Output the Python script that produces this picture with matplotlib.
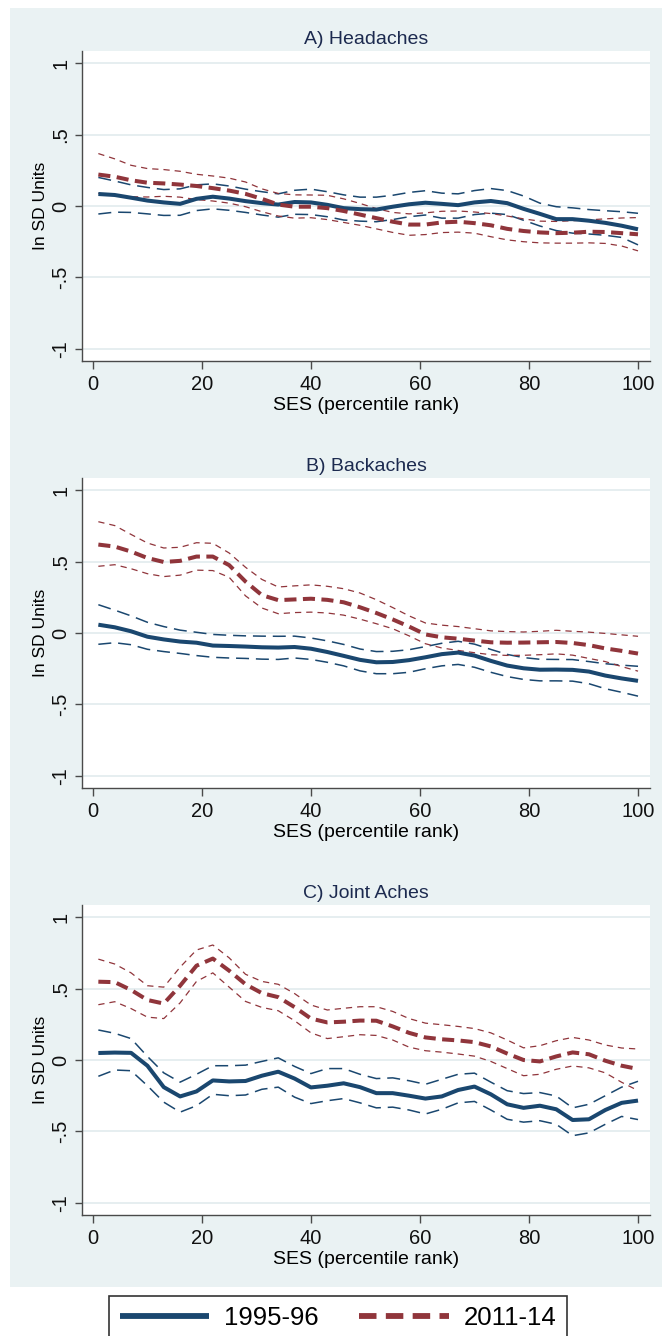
import matplotlib
matplotlib.use("Agg")
import matplotlib.pyplot as plt
from matplotlib.patches import Rectangle

plt.rcParams['font.family'] = ['Liberation Sans', 'DejaVu Sans']

# SES percentile grid (every 3 points)
ses = [1, 4, 7, 10, 13, 16, 19, 22, 25, 28, 31, 34, 37, 40, 43, 46, 49,
       52, 55, 58, 61, 64, 67, 70, 73, 76, 79, 82, 85, 88, 91, 94, 97, 100]

panel_titles = ['A) Headaches', 'B) Backaches', 'C) Joint Aches']
legend_labels = ['1995-96', '2011-14']
yticks = [-1, -0.5, 0, 0.5, 1]
ytick_labels = ['-1', '-.5', '0', '.5', '1']
xticks = [0, 20, 40, 60, 80, 100]

# A) Headaches
a_mid_95 = [0.084, 0.077, 0.058, 0.038, 0.025, 0.015, 0.050, 0.065, 0.052, 0.034, 0.020, 0.010,
            0.028, 0.025, 0.008, -0.015, -0.022, -0.025, -0.005, 0.012, 0.023, 0.015, 0.006, 0.025,
            0.035, 0.020, -0.020, -0.055, -0.092, -0.092, -0.103, -0.118, -0.138, -0.163]
a_hi_95 = [0.200, 0.175, 0.148, 0.130, 0.115, 0.120, 0.148, 0.155, 0.140, 0.118, 0.100, 0.085,
           0.110, 0.118, 0.100, 0.078, 0.062, 0.062, 0.075, 0.095, 0.107, 0.090, 0.085, 0.108,
           0.122, 0.108, 0.070, 0.020, -0.005, -0.013, -0.025, -0.033, -0.040, -0.051]
a_lo_95 = [-0.056, -0.043, -0.045, -0.055, -0.066, -0.065, -0.032, -0.020, -0.030, -0.045, -0.063,
           -0.078, -0.058, -0.060, -0.075, -0.098, -0.106, -0.110, -0.095, -0.075, -0.063, -0.085,
           -0.085, -0.060, -0.050, -0.060, -0.100, -0.140, -0.172, -0.190, -0.196, -0.205, -0.220, -0.272]
a_mid_11 = [0.220, 0.205, 0.180, 0.163, 0.158, 0.150, 0.140, 0.125, 0.108, 0.085, 0.050, 0.010,
            -0.005, -0.005, -0.015, -0.035, -0.060, -0.085, -0.110, -0.130, -0.130, -0.115, -0.110,
            -0.120, -0.135, -0.160, -0.175, -0.185, -0.190, -0.187, -0.180, -0.182, -0.190, -0.198]
a_hi_11 = [0.367, 0.330, 0.285, 0.262, 0.255, 0.243, 0.222, 0.210, 0.195, 0.168, 0.120, 0.088,
           0.078, 0.077, 0.075, 0.050, 0.018, -0.018, -0.045, -0.055, -0.048, -0.037, -0.035,
           -0.042, -0.053, -0.070, -0.090, -0.106, -0.108, -0.103, -0.097, -0.090, -0.084, -0.081]
a_lo_11 = [0.088, 0.075, 0.065, 0.063, 0.068, 0.062, 0.045, 0.035, 0.020, -0.005, -0.040, -0.070,
           -0.085, -0.082, -0.095, -0.115, -0.135, -0.160, -0.185, -0.205, -0.200, -0.186, -0.183,
           -0.190, -0.215, -0.237, -0.250, -0.258, -0.260, -0.260, -0.258, -0.262, -0.280, -0.314]

# B) Backaches
b_mid_95 = [0.058, 0.040, 0.012, -0.026, -0.045, -0.060, -0.068, -0.088, -0.091, -0.095, -0.100,
            -0.102, -0.098, -0.110, -0.133, -0.160, -0.188, -0.205, -0.203, -0.190, -0.170, -0.148,
            -0.137, -0.158, -0.195, -0.228, -0.247, -0.257, -0.256, -0.258, -0.270, -0.298, -0.318, -0.335]
b_hi_95 = [0.198, 0.160, 0.120, 0.075, 0.045, 0.020, 0.005, -0.010, -0.016, -0.020, -0.022, -0.023,
           -0.022, -0.035, -0.055, -0.080, -0.112, -0.130, -0.128, -0.117, -0.095, -0.072, -0.058,
           -0.078, -0.115, -0.150, -0.172, -0.184, -0.185, -0.186, -0.200, -0.215, -0.225, -0.233]
b_lo_95 = [-0.079, -0.068, -0.082, -0.114, -0.130, -0.143, -0.158, -0.170, -0.175, -0.178, -0.183,
           -0.185, -0.175, -0.185, -0.205, -0.230, -0.265, -0.285, -0.285, -0.275, -0.250, -0.230,
           -0.220, -0.240, -0.275, -0.305, -0.325, -0.335, -0.335, -0.337, -0.355, -0.390, -0.415, -0.442]
b_mid_11 = [0.619, 0.605, 0.570, 0.525, 0.497, 0.505, 0.535, 0.535, 0.475, 0.360, 0.265, 0.230,
            0.235, 0.240, 0.232, 0.215, 0.180, 0.140, 0.095, 0.045, -0.010, -0.030, -0.040, -0.053,
            -0.065, -0.068, -0.067, -0.065, -0.063, -0.070, -0.085, -0.108, -0.125, -0.144]
b_hi_11 = [0.779, 0.752, 0.690, 0.630, 0.595, 0.600, 0.632, 0.628, 0.560, 0.460, 0.375, 0.322,
           0.330, 0.337, 0.327, 0.310, 0.280, 0.233, 0.178, 0.120, 0.070, 0.055, 0.045, 0.030,
           0.015, 0.010, 0.007, 0.012, 0.019, 0.012, 0.006, -0.003, -0.013, -0.023]
b_lo_11 = [0.467, 0.478, 0.450, 0.415, 0.395, 0.405, 0.440, 0.437, 0.390, 0.260, 0.175, 0.135,
           0.143, 0.146, 0.140, 0.125, 0.097, 0.065, 0.030, -0.020, -0.075, -0.105, -0.122, -0.138,
           -0.152, -0.157, -0.156, -0.152, -0.146, -0.155, -0.178, -0.200, -0.235, -0.267]

# C) Joint Aches
c_mid_95 = [0.049, 0.052, 0.050, -0.040, -0.190, -0.255, -0.220, -0.143, -0.150, -0.147, -0.110,
            -0.082, -0.130, -0.192, -0.180, -0.163, -0.190, -0.232, -0.232, -0.250, -0.270, -0.255,
            -0.210, -0.186, -0.240, -0.310, -0.335, -0.320, -0.345, -0.420, -0.415, -0.350, -0.300, -0.284]
c_hi_95 = [0.210, 0.187, 0.150, 0.025, -0.090, -0.155, -0.100, -0.040, -0.040, -0.036, -0.010,
           0.015, -0.045, -0.095, -0.060, -0.060, -0.100, -0.130, -0.125, -0.145, -0.170, -0.135,
           -0.100, -0.092, -0.155, -0.215, -0.235, -0.228, -0.252, -0.335, -0.310, -0.250, -0.190, -0.149]
c_lo_95 = [-0.114, -0.070, -0.075, -0.180, -0.295, -0.365, -0.320, -0.240, -0.250, -0.245, -0.205,
           -0.190, -0.260, -0.305, -0.285, -0.270, -0.300, -0.335, -0.330, -0.350, -0.378, -0.345,
           -0.300, -0.290, -0.350, -0.415, -0.435, -0.425, -0.450, -0.530, -0.510, -0.450, -0.395, -0.417]
c_mid_11 = [0.548, 0.545, 0.490, 0.420, 0.395, 0.520, 0.660, 0.710, 0.625, 0.530, 0.468, 0.440,
            0.370, 0.290, 0.263, 0.268, 0.276, 0.275, 0.235, 0.190, 0.158, 0.145, 0.137, 0.125,
            0.095, 0.045, 0.000, -0.010, 0.025, 0.053, 0.040, -0.005, -0.040, -0.063]
c_hi_11 = [0.706, 0.672, 0.610, 0.520, 0.510, 0.650, 0.770, 0.805, 0.715, 0.600, 0.550, 0.530,
           0.465, 0.385, 0.350, 0.362, 0.373, 0.373, 0.340, 0.290, 0.258, 0.247, 0.235, 0.220,
           0.190, 0.140, 0.085, 0.100, 0.135, 0.158, 0.140, 0.105, 0.084, 0.077]
c_lo_11 = [0.387, 0.408, 0.360, 0.300, 0.290, 0.400, 0.550, 0.610, 0.510, 0.410, 0.368, 0.345,
           0.275, 0.190, 0.150, 0.163, 0.177, 0.172, 0.140, 0.090, 0.065, 0.055, 0.042, 0.027,
           -0.010, -0.060, -0.110, -0.100, -0.065, -0.042, -0.055, -0.090, -0.156, -0.214]

panels = [
    (a_mid_95, a_hi_95, a_lo_95, a_mid_11, a_hi_11, a_lo_11),
    (b_mid_95, b_hi_95, b_lo_95, b_mid_11, b_hi_11, b_lo_11),
    (c_mid_95, c_hi_95, c_lo_95, c_mid_11, c_hi_11, c_lo_11),
]

navy = '#1A476F'
maroon = '#90353B'
bg = '#EAF2F3'

W, H = 662, 1336
fig = plt.figure(figsize=(W / 100, H / 100), dpi=100)
fig.patch.set_facecolor('white')
fig.patches.append(Rectangle((10 / W, 1 - 1287 / H), 652 / W, 1279 / H,
                             transform=fig.transFigure, facecolor=bg,
                             edgecolor='none', zorder=-10))

tops = [51, 478, 905]
ax_h = 310
handles = None
for i, (m95, h95, l95, m11, h11, l11) in enumerate(panels):
    ax = fig.add_axes([82 / W, 1 - (tops[i] + ax_h) / H, 568 / W, ax_h / H])
    ax.set_facecolor('white')
    for y in yticks:
        ax.axhline(y, color='#E6EEF0', lw=1.4, zorder=0)

    ax.plot(ses, h95, color=navy, lw=1.1, dashes=(8.5, 4.5))
    ax.plot(ses, l95, color=navy, lw=1.1, dashes=(8.5, 4.5))
    ax.plot(ses, h11, color=maroon, lw=0.9, dashes=(5, 4))
    ax.plot(ses, l11, color=maroon, lw=0.9, dashes=(5, 4))
    p1, = ax.plot(ses, m95, color=navy, lw=2.9, solid_capstyle='butt')
    p2, = ax.plot(ses, m11, color=maroon, lw=2.9, dashes=(3.0, 1.6))
    if handles is None:
        handles = [p1, p2]

    ax.set_xlim(-2.0, 102.2)
    ax.set_ylim(-1.085, 1.085)
    ax.set_xticks(xticks)
    ax.set_yticks(yticks)
    ax.set_yticklabels(ytick_labels, rotation=90, va='center')
    for s in ['top', 'right']:
        ax.spines[s].set_visible(False)
    for s in ['left', 'bottom']:
        ax.spines[s].set_color('#4A4A4A')
        ax.spines[s].set_linewidth(1.0)
    ax.tick_params(axis='both', direction='out', color='#4A4A4A', width=1.0,
                   labelsize=14.5, labelcolor='#111111')
    ax.tick_params(axis='y', length=5, pad=3.5)
    ax.tick_params(axis='x', length=5.5, pad=4.5)
    ax.set_title(panel_titles[i], fontsize=14, color='#1C2A4F', pad=5)
    ax.set_xlabel('SES (percentile rank)', fontsize=14, labelpad=2)
    ax.set_ylabel('In SD Units', fontsize=12.5, labelpad=2)

leg = fig.legend(handles, legend_labels, loc='upper center',
                 bbox_to_anchor=(338 / W, 1 - 1296 / H), ncol=2, fontsize=18.5,
                 frameon=True, fancybox=False, edgecolor='black',
                 handlelength=3.5, handletextpad=0.58, columnspacing=1.55,
                 borderpad=0.4, borderaxespad=0)
leg.get_frame().set_linewidth(1.2)
for ln in leg.get_lines():
    ln.set_linewidth(4.2)

fig.savefig('out.png', dpi=100, facecolor='white')
